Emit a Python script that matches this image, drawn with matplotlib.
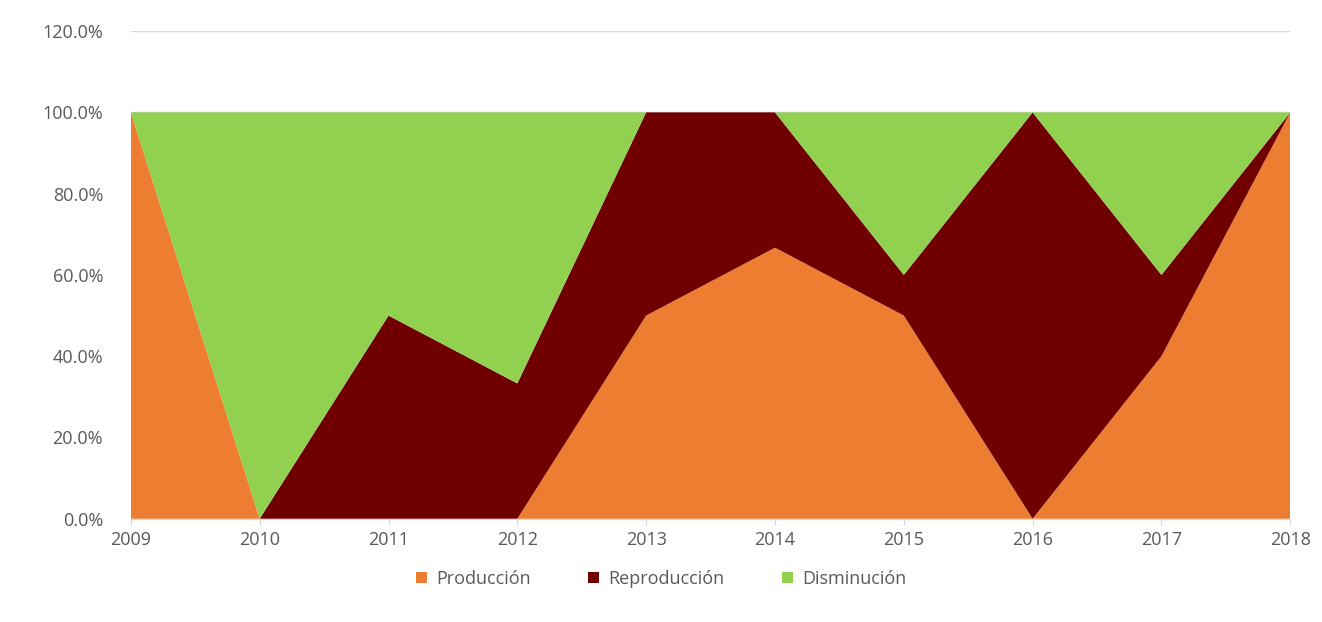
import numpy as np
import matplotlib.pyplot as plt
from matplotlib.ticker import PercentFormatter

# Datos (porcentajes)
anios = [2009, 2010, 2011, 2012, 2013, 2014, 2015, 2016, 2017, 2018]
produccion = [100.0, 0.0, 0.0, 0.0, 50.0, 66.7, 50.0, 0.0, 40.0, 100.0]
reproduccion = [0.0, 0.0, 50.0, 33.3, 50.0, 33.3, 10.0, 100.0, 20.0, 0.0]
disminucion = [0.0, 100.0, 50.0, 66.7, 0.0, 0.0, 40.0, 0.0, 40.0, 0.0]

colores = ['#ED7D31', '#700000', '#92D050']
etiquetas = ['Producción', 'Reproducción', 'Disminución']

plt.rcParams['font.family'] = ['Open Sans', 'DejaVu Sans']

fig = plt.figure(figsize=(13.22, 6.22), dpi=100)
ax = fig.add_axes([0.099, 0.166, 0.877, 0.784])

ax.stackplot(anios, produccion, reproduccion, disminucion,
             colors=colores, labels=etiquetas, linewidth=0)

ax.set_xlim(2009, 2018)
ax.set_ylim(0, 120)
ax.set_yticks(np.arange(0, 121, 20))
ax.yaxis.set_major_formatter(PercentFormatter(decimals=1))
ax.set_xticks(anios)

ax.grid(axis='y', color='#D9D9D9', linewidth=1)
ax.set_axisbelow(True)
for lado in ['top', 'right', 'left']:
    ax.spines[lado].set_visible(False)
ax.spines['bottom'].set_color('#D9D9D9')
ax.tick_params(axis='y', length=0, labelsize=13, labelcolor='#595959', pad=20)
ax.tick_params(axis='x', length=4, color='#D9D9D9', labelsize=13, labelcolor='#595959', pad=5)

fig.legend(loc='center', bbox_to_anchor=(0.5, 0.069), ncol=3, frameon=False,
           fontsize=13, labelcolor='#595959', handlelength=0.6, handleheight=0.6,
           columnspacing=3.2, handletextpad=0.5)

fig.savefig('out.png', dpi=100)
